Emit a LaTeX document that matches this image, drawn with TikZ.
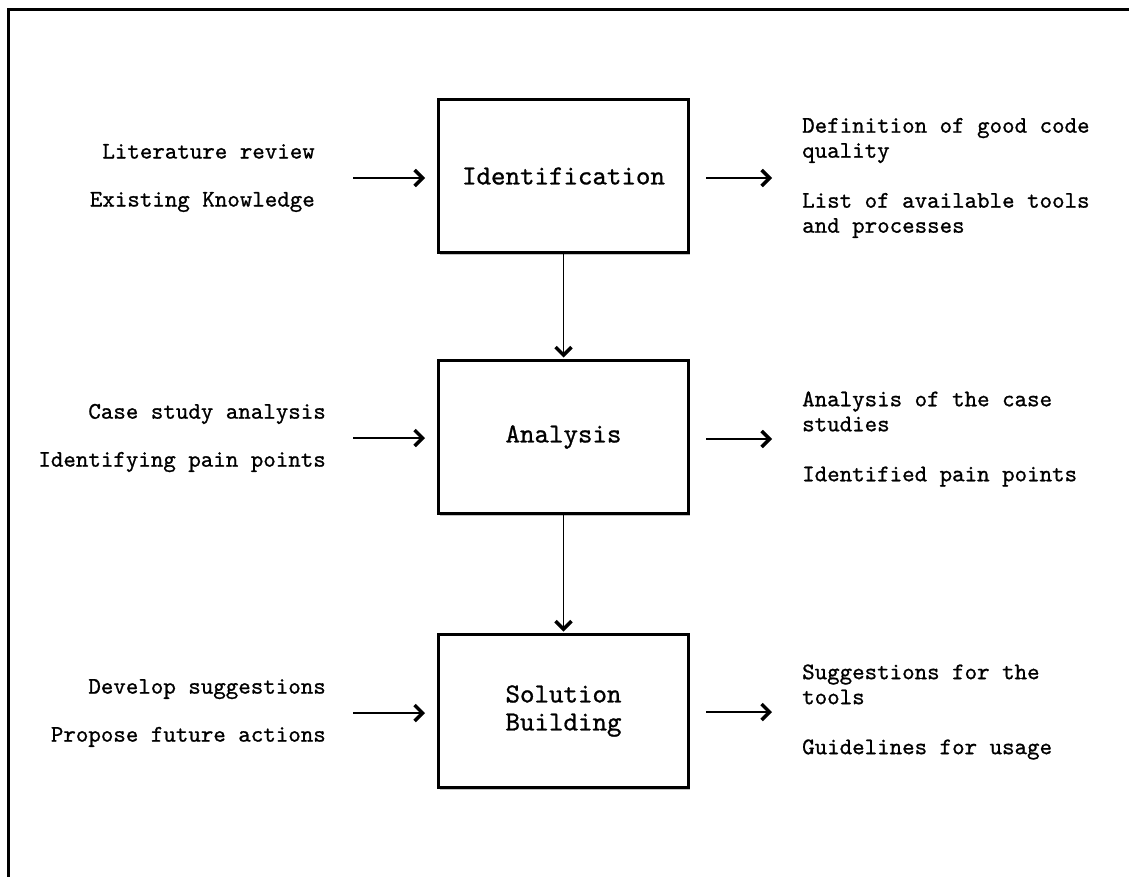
\documentclass[tikz,border=0pt]{standalone}
\usepackage{fontspec}
\newfontfamily\codefont{lmmono10-regular.otf}[FakeBold=0.9]
\usetikzlibrary{arrows.meta,positioning,shadows}

\begin{document}
\begin{tikzpicture}[x=1pt,y=-1pt,>={Straight Barb[length=8pt,width=16pt,line width=3.5pt 0,line join=miter]},
    stage/.style={draw,fill=white,line width=3pt,minimum width=250pt,minimum height=153pt,
      align=center,font=\codefont\fontsize{27.6}{28}\selectfont,
      drop shadow={shadow xshift=1.5pt,shadow yshift=-2.5pt,fill=black!40,opacity=0.6}},
    intext/.style={anchor=east,align=right,inner sep=0pt,font=\codefont\fontsize{23.8}{25}\selectfont},
    outtext/.style={anchor=west,align=left,inner sep=0pt,font=\codefont\fontsize{23.8}{25}\selectfont},
    flow/.style={->,line width=1.4pt}]
  \useasboundingbox (0,0) rectangle (1129,876);
  % frame, only left and top edges show
  \draw[line width=2.5pt] (8.5,890) -- (8.5,9.5) -- (1140,9.5);

  % stages
  \node[stage] (ident) at (563.5,176) {Identification};
  \node[stage,below=105pt of ident] (anal) {Analysis};
  \node[stage,below=118pt of anal] (sol) {Solution\\Building};

  % inputs
  \node[intext] (identin) at (315,178) {Literature review\\[23pt]Existing Knowledge};
  \node[intext] (analin) at (326,438) {Case study analysis\\[23pt]Identifying pain points};
  \node[intext] (solin) at (326,713) {Develop suggestions\\[23pt]Propose future actions};

  % outputs
  \node[outtext] (identout) at (802,178) {Definition of good code\\quality\\[25pt]List of available tools\\and processes};
  \node[outtext] (analout) at (802,439) {Analysis of the case\\studies\\[25pt]Identified pain points};
  \node[outtext] (solout) at (802,712) {Suggestions for the\\tools\\[25pt]Guidelines for usage};

  % connectors
  \draw[flow,shorten <=38pt,shorten >=12pt] (identin.east) -- (identin.east -| ident.west);
  \draw[flow,shorten <=27pt,shorten >=12pt] (analin.east) -- (analin.east -| anal.west);
  \draw[flow,shorten <=27pt,shorten >=12pt] (solin.east) -- (solin.east -| sol.west);
  \draw[flow,shorten <=16pt,shorten >=30pt] (ident.east |- identout.west) -- (identout.west);
  \draw[flow,shorten <=16pt,shorten >=30pt] (anal.east |- analout.west) -- (analout.west);
  \draw[flow,shorten <=16pt,shorten >=30pt] (sol.east |- solout.west) -- (solout.west);
  \draw[flow,shorten >=1.5pt] (ident) -- (anal);
  \draw[flow,shorten >=1.5pt] (anal) -- (sol);
\end{tikzpicture}
\end{document}
